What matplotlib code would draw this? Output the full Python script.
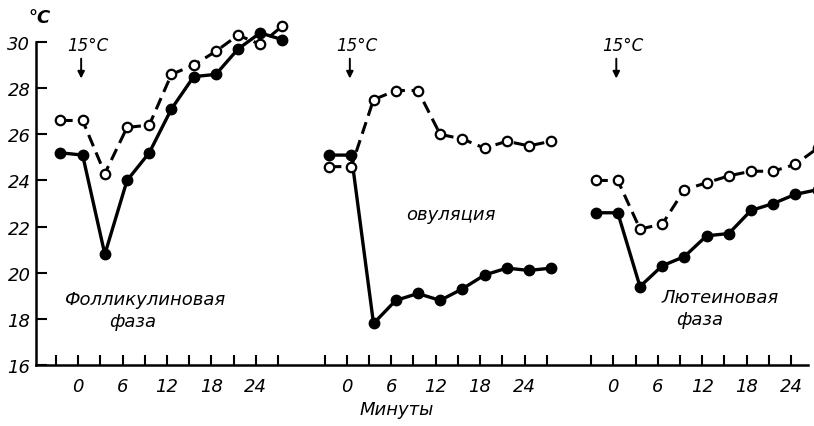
import matplotlib
matplotlib.use("Agg")
import matplotlib.pyplot as plt
import numpy as np

# %%
# temperature (°C) every 3 min; cooling to 15 °C applied at minute 0
minutes = [-3, 0, 3, 6, 9, 12, 15, 18, 21, 24, 27]

foll_open = [26.6, 26.6, 24.3, 26.3, 26.4, 28.6, 29.0, 29.6, 30.3, 29.9, 30.7]
foll_filled = [25.2, 25.1, 20.8, 24.0, 25.2, 27.1, 28.5, 28.6, 29.7, 30.4, 30.1]
ovul_open = [24.6, 24.6, 27.5, 27.9, 27.9, 26.0, 25.8, 25.4, 25.7, 25.5, 25.7]
ovul_filled = [25.1, 25.1, 17.8, 18.8, 19.1, 18.8, 19.3, 19.9, 20.2, 20.1, 20.2]
lut_open = [24.0, 24.0, 21.9, 22.1, 23.6, 23.9, 24.2, 24.4, 24.4, 24.7, 25.4]
lut_filled = [22.6, 22.6, 19.4, 20.3, 20.7, 21.6, 21.7, 22.7, 23.0, 23.4, 23.6]

phase_labels = [["Фолликулиновая", "фаза"], ["овуляция"], ["Лютеиновая", "фаза"]]
tick_minutes = [-3, 0, 3, 6, 9, 12, 15, 18, 21, 24, 27]
labelled = [0, 6, 12, 18, 24]
y_ticks = [16, 18, 20, 22, 24, 26, 28, 30]

# %%
plt.rcParams["font.family"] = ["DejaVu Sans"]
plt.rcParams["font.style"] = "italic"

fig = plt.figure(figsize=(8.14, 4.27), dpi=100)
ax = fig.add_axes([36 / 814, 61 / 427, (808 - 36) / 814, (366 - 20) / 427])

offsets = [0.0, 36.3, 72.3]
shift = 0.6
series = [
    (foll_open, foll_filled),
    (ovul_open, ovul_filled),
    (lut_open, lut_filled),
]

for off, (op, fi) in zip(offsets, series):
    x = np.array(minutes) + off + shift
    ax.plot(x, fi, color="black", lw=2.4, marker="o", ms=7.5,
            mfc="black", mec="black", zorder=3, clip_on=False)
    ax.plot(x, op, color="black", lw=2.2, ls=(0, (4, 2.2)), marker="o",
            ms=6.8, mfc="white", mec="black", mew=1.6, zorder=4,
            clip_on=False)
    # cooling marker
    ax.text(off + 1.3, 29.87, "15°C", ha="center", va="center", fontsize=12)
    ax.annotate("", xy=(off + 0.4, 28.3), xytext=(off + 0.4, 29.4),
                arrowprops=dict(arrowstyle="-|>", color="black", lw=1.4,
                                mutation_scale=10))

# phase names
ax.text(offsets[0] + 9.0, 18.86, phase_labels[0][0], ha="center",
        va="center", fontsize=13)
ax.text(offsets[0] + 7.3, 17.9, phase_labels[0][1], ha="center",
        va="center", fontsize=13)
ax.text(offsets[1] + 14.0, 22.54, phase_labels[1][0], ha="center",
        va="center", fontsize=13)
ax.text(offsets[2] + 14.4, 18.95, phase_labels[2][0], ha="center",
        va="center", fontsize=13)
ax.text(offsets[2] + 11.7, 18.0, phase_labels[2][1], ha="center",
        va="center", fontsize=13)

xt, xl = [], []
for off in offsets:
    for m in tick_minutes:
        xt.append(off + m)
        xl.append(str(m) if m in labelled else "")
ax.set_xticks(xt)
ax.set_xticklabels(xl, fontsize=13)
ax.set_yticks(y_ticks)
ax.set_yticklabels([str(v) for v in y_ticks], fontsize=13)
ax.tick_params(axis="x", direction="in", length=7, width=1.5, pad=9)
ax.tick_params(axis="y", direction="in", length=8, width=1.5, pad=4)

ax.set_xlim(-5.7, 98.6)
ax.set_ylim(16, 31)
ax.spines[["top", "right"]].set_visible(False)
ax.spines["left"].set_bounds(16, 30)
ax.spines["left"].set_linewidth(1.8)
ax.spines["bottom"].set_linewidth(1.8)

fig.text(40 / 814, 1 - 18 / 427, "°C", ha="center", va="center",
         fontsize=13, fontweight="bold")
fig.text(397 / 814, 1 - 410 / 427, "Минуты", ha="center", va="center",
         fontsize=13)

fig.savefig("out.png", dpi=100)
